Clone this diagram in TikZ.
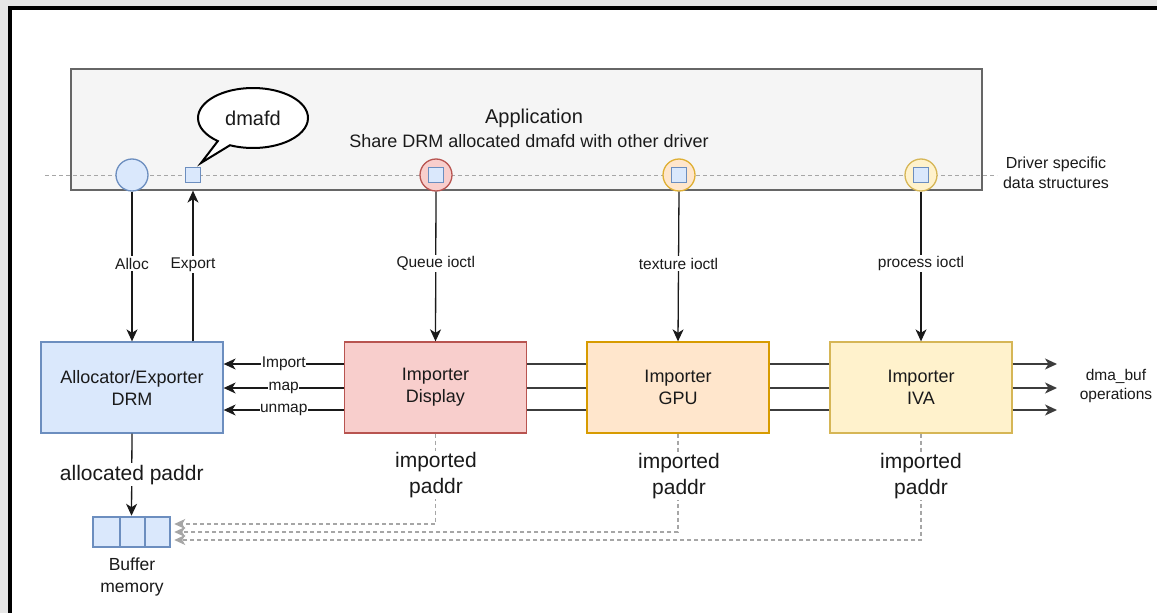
\documentclass[tikz,border=0pt]{standalone}
\usepackage{fontspec}
\setmainfont{Liberation Sans}
\usetikzlibrary{arrows.meta,shapes.callouts,calc}

\definecolor{blueF}{HTML}{DAE8FC}
\definecolor{blueD}{HTML}{6C8EBF}
\definecolor{redF}{HTML}{F8CECC}
\definecolor{redD}{HTML}{B85450}
\definecolor{orF}{HTML}{FFE6CC}
\definecolor{orD}{HTML}{D79B00}
\definecolor{yeF}{HTML}{FFF2CC}
\definecolor{yeD}{HTML}{D6B656}
\definecolor{appF}{HTML}{F5F5F5}
\definecolor{appD}{HTML}{666666}
\definecolor{txt}{HTML}{1A1A1A}
\definecolor{dashgrey}{HTML}{A6A6A6}
\definecolor{outside}{HTML}{E6E6E6}

\tikzset{
  every node/.style={text=txt},
  drvbox/.style={rectangle, draw, line width=1.3pt, minimum width=182pt,
    minimum height=91pt, align=center, font=\fontsize{18}{22}\selectfont},
  port/.style={circle, draw, line width=1.3pt, minimum size=32pt, inner sep=0pt},
  handle/.style={rectangle, draw=blueD, fill=blueF, line width=1.3pt,
    minimum size=15pt, inner sep=0pt},
  lbl/.style={fill=white, inner sep=1.5pt, font=\fontsize{15.5}{18}\selectfont},
  plbl/.style={fill=white, inner sep=1.5pt, align=center,
    font=\fontsize{21}{26}\selectfont},
  arr/.style={line width=1.3pt, draw=txt, -{Stealth[length=12pt,width=11pt,inset=3.5pt]}},
  link/.style={line width=1.6pt, draw=txt!85},
  dmaarr/.style={line width=1.6pt, draw=txt!85, -{Stealth[length=12pt,width=11pt,inset=3.5pt]}},
  paddr/.style={line width=1.1pt, draw=dashgrey, dash pattern=on 4pt off 3pt,
    -{Stealth[length=11pt,width=10pt,inset=3pt]}},
}

\begin{document}
\begin{tikzpicture}[x=1pt, y=-1pt]
\useasboundingbox (0,0) rectangle (1157,613);

% frame
\fill[outside] (0,0) rectangle (1157,613);
\fill[white] (10,8) rectangle (1157,613);
\draw[line width=4pt, black] (10,613) -- (10,8) -- (1157,8);

% application layer
\node[rectangle, draw=appD, fill=appF, line width=1.3pt, minimum width=911pt,
  minimum height=121pt, inner sep=0pt] (app) at (526.5,129.5) {};
\node[font=\fontsize{20}{24}\selectfont] (apptitle) at (534,118) {Application};
\node[font=\fontsize{18}{22}\selectfont] (appsub) at (529,141)
  {Share DRM allocated dmafd with other driver};

% driver specific data structures line
\coordinate (dl) at (45,175);
\coordinate (dr) at (997,175);
\draw[dashgrey, line width=1pt, dash pattern=on 4pt off 3pt] (dl) -- (dr);
\node[align=center, font=\fontsize{16}{20}\selectfont] (dsd) at (1056,173)
  {Driver specific\\data structures};

% ports on the line
\node[port, draw=blueD, fill=blueF] (c1) at (132,175) {};
\node[handle] (sq) at (193,175) {};
\node[port, draw=redD, fill=redF] (c2) at (436,175) {};
\node[handle] (h2) at (436,175) {};
\node[port, draw=orD!80, fill=orF] (c3) at (679,175) {};
\node[handle] (h3) at (679,175) {};
\node[port, draw=yeD, fill=yeF] (c4) at (921,175) {};
\node[handle] (h4) at (921,175) {};

% dmafd callout
\node[ellipse callout, draw=black, fill=white, line width=2pt,
  minimum width=110pt, minimum height=60pt, inner sep=0pt,
  callout absolute pointer={([yshift=4pt]sq.north east)},
  font=\fontsize{20}{24}\selectfont] (bubble) at (253,118) {dmafd};

% drivers
\node[drvbox, draw=blueD, fill=blueF] (drm) at (132,387.5) {Allocator/Exporter\\DRM};
\node[drvbox, draw=redD, fill=redF] (disp) at (435.5,387.5) {Importer\\Display};
\node[drvbox, draw=orD, fill=orF] (gpu) at (678,387.5) {Importer\\GPU};
\node[drvbox, draw=yeD, fill=yeF] (iva) at (921,387.5) {Importer\\IVA};

% ioctls from the application
\draw[arr] (c1.south) -- (drm.north) node[lbl, pos=0.48] {Alloc};
\draw[arr] (drm.north -| sq) -- (app.south -| sq) node[lbl, pos=0.51] {Export};
\draw[arr] (c2.south) -- (disp.north) node[lbl, pos=0.48] {Queue ioctl};
\draw[arr] (c3.south) -- (gpu.north) node[lbl, pos=0.48] {texture ioctl};
\draw[arr] (c4.south) -- (iva.north) node[lbl, pos=0.48] {process ioctl};

% dma_buf calls between drivers
\draw[arr] ([yshift=23.5pt]disp.west) -- ([yshift=23.5pt]drm.east) node[lbl, midway, inner sep=0.5pt] {Import};
\draw[arr] ([yshift=-0.5pt]disp.west) -- ([yshift=-0.5pt]drm.east) node[lbl, midway, inner sep=0.5pt] {map};
\draw[arr] ([yshift=-22.5pt]disp.west) -- ([yshift=-22.5pt]drm.east) node[lbl, midway, inner sep=0.5pt] {unmap};

\foreach \s in {23.5,-0.5,-22.5}{
  \draw[link] ([yshift=\s pt]gpu.west) -- ([yshift=\s pt]disp.east);
  \draw[link] ([yshift=\s pt]iva.west) -- ([yshift=\s pt]gpu.east);
}

\coordinate (out) at (1057,387.5);
\foreach \s in {23.5,-0.5,-22.5}{
  \draw[dmaarr] ([yshift=\s pt]iva.east) -- ([yshift=\s pt]out);
}
\node[align=center, font=\fontsize{15.5}{19}\selectfont] (dmaops) at (1116,386)
  {dma\_buf\\operations};

% buffer memory
\node[rectangle, draw=blueD, fill=blueF, line width=2.5pt, minimum width=77pt,
  minimum height=30pt, inner sep=0pt] (buf) at (131.5,532) {};
\draw[blueD, line width=2.5pt] ([xshift=-11.5pt]buf.north) -- ([xshift=-11.5pt]buf.south);
\draw[blueD, line width=2.5pt] ([xshift=13.5pt]buf.north) -- ([xshift=13.5pt]buf.south);
\node[align=center, font=\fontsize{17.5}{22}\selectfont] (bufl) at (132,577)
  {Buffer\\memory};

\draw[arr] (drm.south) -- (buf.north) node[plbl, midway] {allocated paddr};

% physical addresses of the importers
\draw[paddr] (disp.south) |- ([yshift=8pt, xshift=3pt]buf.east);
\draw[paddr] (gpu.south) |- ([xshift=3pt]buf.east);
\draw[paddr] (iva.south) |- ([yshift=-8pt, xshift=3pt]buf.east);
\node[plbl] (ip1) at (436,475) {imported\\paddr};
\node[plbl] (ip2) at (679,476) {imported\\paddr};
\node[plbl] (ip3) at (921,476) {imported\\paddr};

\end{tikzpicture}
\end{document}
